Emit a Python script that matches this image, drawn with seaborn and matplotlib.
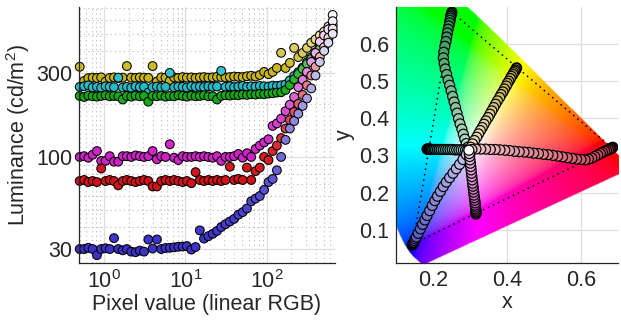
import numpy as np
import pandas as pd
import matplotlib
matplotlib.use("Agg")
import matplotlib.pyplot as plt
import seaborn as sns
from matplotlib.path import Path
from matplotlib.colors import to_rgb
from matplotlib.ticker import FixedLocator, FixedFormatter, NullFormatter, LogLocator

# ---------------- data: left panel (luminance vs pixel value) ----------------
pixel_value = [0.50, 0.566, 0.638, 0.721, 0.814, 0.919, 1.04, 1.17, 1.32, 1.49,
               1.69, 1.90, 2.15, 2.43, 2.74, 3.09, 3.49, 3.94, 4.45, 5.03,
               5.68, 6.41, 7.24, 8.17, 9.23, 10.4, 11.8, 13.3, 15.0, 16.9,
               19.1, 21.6, 24.4, 27.5, 31.0, 35.1, 39.6, 44.7, 50.5, 57.0,
               64.3, 72.6, 82.0, 92.7, 105, 118, 133, 150, 170, 192,
               217, 244, 276, 312, 352, 397, 449, 507, 572, 646]

lum_yellow = [325, 270, 280, 282, 281, 283, 268, 281, 283, 280,
              282, 328, 282, 281, 283, 282, 281, 328, 268, 283,
              282, 270, 283, 281, 284, 282, 283, 281, 283, 284,
              282, 283, 285, 284, 283, 284, 286, 285, 284, 287,
              289, 286, 292, 304, 295, 304, 320, 390, 320, 342,
              416, 369, 389, 416, 445, 465, 490, 515, 550, 640]

lum_cyan = [250, 252, 255, 248, 250, 247, 252, 250, 249, 282,
            248, 250, 247, 252, 249, 250, 232, 249, 251, 248,
            250, 300, 249, 251, 250, 248, 252, 250, 251, 249,
            252, 250, 251, 308, 250, 252, 249, 251, 253, 250,
            252, 251, 253, 252, 251, 254, 253, 255, 258, 272,
            288, 303, 322, 345, 368, 393, 420, 450, 490, 560]

lum_green = [222, 219, 223, 221, 220, 222, 224, 221, 222, 221,
             212, 222, 220, 223, 221, 222, 206, 222, 221, 223,
             220, 222, 221, 224, 222, 220, 223, 221, 222, 224,
             221, 221, 212, 222, 224, 223, 225, 224, 226, 225,
             227, 226, 228, 227, 229, 230, 232, 233, 240, 256,
             276, 296, 316, 338, 360, 384, 410, 438, 470, 515]

lum_magenta = [100, 101, 99, 103, 108, 95, 95, 101, 94, 94,
               101, 101, 100, 102, 101, 100, 101, 108, 97, 101,
               100, 118, 99, 96, 101, 100, 100, 101, 100, 101,
               100, 99, 101, 95, 100, 100, 101, 104, 99, 105,
               100, 111, 116, 121, 126, 150, 155, 165, 182, 198,
               219, 249, 274, 304, 346, 389, 451, 490, 530, 590]

lum_red = [73, 74, 72, 73, 72, 86, 73, 74, 73, 69,
           73, 74, 73, 72, 73, 74, 73, 68, 68, 73,
           74, 73, 74, 73, 72, 73, 71, 82, 74, 73,
           74, 73, 74, 73, 74, 88, 74, 75, 74, 87,
           74, 83, 87, 100, 96, 108, 116, 128, 145, 162,
           180, 200, 225, 255, 290, 325, 370, 420, 475, 535]

lum_blue = [30, 30, 30.5, 30, 27.7, 30, 30.3, 30, 34.6, 30,
            29.5, 30, 29, 28.8, 29.4, 29, 34, 30.2, 34, 30,
            30.4, 30.5, 30.7, 30.9, 31, 31.2, 29.8, 30.8, 38.3, 34.4,
            35.5, 36.6, 38, 40, 41.5, 43, 44.5, 47, 48.6, 51,
            56, 58, 60, 65, 72, 75, 84, 100, 125, 145,
            160, 176, 195, 215, 245, 290, 346, 400, 445, 500]

y_ticks_left = [30, 100, 300]
y_ticklabels_left = ["30", "100", "300"]

# ---------------- data: right panel (CIE xy chromaticity) ----------------
green_x = [0.251, 0.250, 0.249, 0.248, 0.247, 0.246, 0.245, 0.243, 0.241, 0.239,
           0.237, 0.235, 0.232, 0.229, 0.228, 0.230, 0.233, 0.237, 0.241, 0.245,
           0.249, 0.253, 0.257, 0.261, 0.265, 0.269, 0.273, 0.278, 0.282, 0.286,
           0.290, 0.294]
green_y = [0.686, 0.683, 0.679, 0.675, 0.670, 0.664, 0.657, 0.649, 0.640, 0.630,
           0.619, 0.607, 0.594, 0.578, 0.563, 0.548, 0.533, 0.518, 0.503, 0.489,
           0.474, 0.459, 0.444, 0.429, 0.414, 0.399, 0.385, 0.371, 0.357, 0.344,
           0.332, 0.322]

yellow_x = [0.426, 0.425, 0.423, 0.421, 0.418, 0.416, 0.412, 0.409, 0.405, 0.401,
            0.398, 0.393, 0.389, 0.384, 0.380, 0.374, 0.369, 0.364, 0.359, 0.354,
            0.349, 0.343, 0.338, 0.333, 0.328, 0.323, 0.318, 0.312, 0.307, 0.302]
yellow_y = [0.536, 0.534, 0.530, 0.527, 0.523, 0.518, 0.513, 0.507, 0.500, 0.494,
            0.487, 0.479, 0.471, 0.464, 0.456, 0.447, 0.438, 0.429, 0.420, 0.411,
            0.402, 0.393, 0.384, 0.375, 0.367, 0.358, 0.349, 0.340, 0.331, 0.322]

cyan_x = [0.184, 0.185, 0.186, 0.187, 0.189, 0.191, 0.193, 0.196, 0.199, 0.203,
          0.207, 0.212, 0.217, 0.222, 0.228, 0.234, 0.240, 0.246, 0.252, 0.258,
          0.264, 0.270, 0.276, 0.282, 0.288, 0.293]
cyan_y = [0.317, 0.317, 0.317, 0.317, 0.317, 0.317, 0.317, 0.316, 0.316, 0.316,
          0.316, 0.316, 0.316, 0.316, 0.316, 0.316, 0.316, 0.316, 0.316, 0.315,
          0.315, 0.315, 0.315, 0.315, 0.314, 0.314]

red_x = [0.686, 0.684, 0.681, 0.678, 0.674, 0.669, 0.664, 0.658, 0.652, 0.645,
         0.637, 0.629, 0.620, 0.611, 0.600, 0.588, 0.576, 0.563, 0.550, 0.537,
         0.524, 0.511, 0.498, 0.485, 0.472, 0.459, 0.446, 0.433, 0.420, 0.407,
         0.394, 0.381, 0.368, 0.355, 0.342, 0.329, 0.316, 0.305]
red_y = [0.322, 0.320, 0.319, 0.317, 0.315, 0.313, 0.311, 0.308, 0.305, 0.301,
         0.297, 0.293, 0.290, 0.288, 0.289, 0.290, 0.292, 0.294, 0.296, 0.298,
         0.300, 0.302, 0.303, 0.305, 0.306, 0.308, 0.309, 0.310, 0.311, 0.313,
         0.314, 0.315, 0.316, 0.316, 0.317, 0.317, 0.317, 0.316]

blue_x = [0.144, 0.145, 0.146, 0.147, 0.148, 0.150, 0.152, 0.155, 0.160, 0.166,
          0.172, 0.178, 0.184, 0.191, 0.198, 0.205, 0.212, 0.220, 0.228, 0.236,
          0.245, 0.254, 0.263, 0.272, 0.281, 0.290]
blue_y = [0.058, 0.060, 0.062, 0.064, 0.066, 0.070, 0.075, 0.080, 0.090, 0.102,
          0.114, 0.126, 0.138, 0.151, 0.165, 0.178, 0.190, 0.203, 0.216, 0.228,
          0.240, 0.252, 0.264, 0.276, 0.289, 0.302]

magenta_x = [0.316, 0.316, 0.316, 0.316, 0.315, 0.315, 0.314, 0.314, 0.313, 0.312,
             0.311, 0.310, 0.309, 0.308, 0.307, 0.306, 0.305, 0.304, 0.303, 0.302,
             0.301, 0.300, 0.299, 0.298]
magenta_y = [0.142, 0.145, 0.148, 0.152, 0.156, 0.161, 0.166, 0.172, 0.179, 0.186,
             0.193, 0.201, 0.209, 0.217, 0.225, 0.234, 0.243, 0.252, 0.261, 0.270,
             0.279, 0.288, 0.297, 0.305]

white_x = [0.297]
white_y = [0.314]

gamut_x = [0.684, 0.251, 0.146, 0.684]
gamut_y = [0.320, 0.686, 0.062, 0.320]

# CIE 1931 spectral locus (subset), used for the background region
locus_x = [0.1741, 0.1733, 0.1714, 0.1689, 0.1644, 0.1566, 0.1440, 0.1355, 0.1241,
           0.1096, 0.0913, 0.0687, 0.0454, 0.0235, 0.0082, 0.0039, 0.0139, 0.0389,
           0.0743, 0.1142, 0.1547, 0.1929, 0.2296, 0.2658, 0.3016, 0.3373, 0.3731,
           0.4087, 0.4441, 0.4788, 0.5125, 0.5448, 0.5752, 0.6029, 0.6270, 0.6482,
           0.6658, 0.6915, 0.7079, 0.7190, 0.7260, 0.7347]
locus_y = [0.0050, 0.0048, 0.0051, 0.0069, 0.0109, 0.0177, 0.0297, 0.0399, 0.0578,
           0.0868, 0.1327, 0.2007, 0.2950, 0.4127, 0.5384, 0.6548, 0.7502, 0.8120,
           0.8338, 0.8262, 0.8059, 0.7816, 0.7543, 0.7243, 0.6923, 0.6589, 0.6245,
           0.5896, 0.5547, 0.5202, 0.4866, 0.4544, 0.4242, 0.3965, 0.3725, 0.3514,
           0.3340, 0.3083, 0.2920, 0.2809, 0.2740, 0.2653]

# ---------------- style ----------------
sns.set_style("white")
plt.rcParams["font.family"] = ["Liberation Sans", "DejaVu Sans"]
plt.rcParams["mathtext.fontset"] = "custom"
plt.rcParams["mathtext.rm"] = "Liberation Sans"
plt.rcParams["mathtext.it"] = "Liberation Sans:italic"
plt.rcParams["mathtext.bf"] = "Liberation Sans:bold"
TXT = "#262626"
FS = 15.5

fig = plt.figure(figsize=(6.21, 3.24), dpi=100)
axL = fig.add_axes([79 / 621, 61 / 324, 256 / 621, 256 / 324])
axR = fig.add_axes([396 / 621, 61 / 324, 222 / 621, 256 / 324])

white = np.ones(3)

# ---------------- left panel ----------------
left_series = [
    ("yellow", lum_yellow, "#c8b414", 282),
    ("cyan", lum_cyan, "#20bcc8", 250),
    ("green", lum_green, "#14aa14", 222),
    ("magenta", lum_magenta, "#d020c8", 100),
    ("red", lum_red, "#d41018", 73),
    ("blue", lum_blue, "#3c32c8", 30),
]
rows = []
for name, lum, col, base in left_series:
    c0 = np.array(to_rgb(col))
    for xv, yv in zip(pixel_value, lum):
        t = np.clip(np.log(yv / base) / np.log(645 / base), 0, 1) ** 1.4
        c = (1 - t) * c0 + t * white
        rows.append((xv, yv, tuple(c)))
dfL = pd.DataFrame(rows, columns=["x", "y", "color"])
dfL["pid"] = ["p%d" % i for i in range(len(dfL))]
palL = dict(zip(dfL["pid"], dfL["color"]))
sns.scatterplot(data=dfL, x="x", y="y", hue="pid", palette=palL, legend=False,
                s=40, edgecolor="black", linewidth=0.75, ax=axL, zorder=3,
                clip_on=False)
axL.set_xscale("log")
axL.set_yscale("log")
axL.set_xlim(0.49, 690)
axL.set_ylim(25, 710)
axL.yaxis.set_major_locator(FixedLocator(y_ticks_left))
axL.yaxis.set_major_formatter(FixedFormatter(y_ticklabels_left))
axL.yaxis.set_minor_locator(LogLocator(base=10, subs=np.arange(2, 10), numticks=20))
axL.yaxis.set_minor_formatter(NullFormatter())
axL.xaxis.set_major_locator(LogLocator(base=10, numticks=10))
axL.xaxis.set_minor_locator(LogLocator(base=10, subs=np.arange(2, 10), numticks=20))
axL.xaxis.set_minor_formatter(NullFormatter())
axL.set_axisbelow(True)
axL.grid(which="major", color="#dedede", lw=0.9, ls="-")
axL.grid(which="minor", color="#b8b8b8", lw=0.8, ls=(0, (1, 3)))
axL.set_xlabel("Pixel value (linear RGB)", fontsize=FS, color=TXT, labelpad=1)
axL.set_ylabel("Luminance (cd/m$^2$)", fontsize=FS, color=TXT, labelpad=3)

# ---------------- right panel ----------------
nx, ny = 600, 690
gx = np.linspace(0.1, 0.7, nx)
gy = np.linspace(0.01, 0.7, ny)
GX, GY = np.meshgrid(gx, gy)
XYZ = np.stack([GX / GY, np.ones_like(GX), (1 - GX - GY) / GY], -1)
M = np.array([[3.2406, -1.5372, -0.4986],
              [-0.9689, 1.8758, 0.0415],
              [0.0557, -0.2040, 1.0570]])
rgb = np.clip(XYZ @ M.T, 0, None)
rgb = rgb / np.maximum(rgb.max(-1, keepdims=True), 1e-9)
rgb = np.where(rgb <= 0.0031308, 12.92 * rgb, 1.055 * np.power(rgb, 1 / 2.4) - 0.055)
poly = Path(np.column_stack([locus_x, locus_y]))
inside = poly.contains_points(np.column_stack([GX.ravel(), GY.ravel()])).reshape(GX.shape)
rgba = np.concatenate([rgb, inside[..., None].astype(float)], -1)
axR.imshow(rgba, extent=[0.1, 0.7, 0.01, 0.7], origin="lower", aspect="auto",
           interpolation="bilinear", zorder=1)

sns.lineplot(x=gamut_x, y=gamut_y, sort=False, estimator=None, color="black",
             lw=1.1, ls=(0, (1, 2.6)), ax=axR, zorder=2)

arms = [
    ("green", green_x, green_y, "#23904a"),
    ("yellow", yellow_x, yellow_y, "#c4aa38"),
    ("cyan", cyan_x, cyan_y, "#0f8c8c"),
    ("red", red_x, red_y, "#cc4054"),
    ("blue", blue_x, blue_y, "#5050c0"),
    ("magenta", magenta_x, magenta_y, "#c048b0"),
]
rows = []
for name, xs, ys, col in arms:
    c1 = np.array(to_rgb(col))
    light = 0.3 * c1 + 0.7 * white
    d = np.hypot(np.array(xs) - white_x[0], np.array(ys) - white_y[0])
    tt = d / d.max()
    for xv, yv, t in zip(xs, ys, tt):
        c = (1 - t) * light + t * c1
        rows.append((xv, yv, tuple(c)))
for xv, yv in zip(white_x, white_y):
    rows.append((xv, yv, (1.0, 1.0, 1.0)))
dfR = pd.DataFrame(rows, columns=["x", "y", "color"])
dfR["pid"] = ["q%d" % i for i in range(len(dfR))]
palR = dict(zip(dfR["pid"], dfR["color"]))
sns.scatterplot(data=dfR, x="x", y="y", hue="pid", palette=palR, legend=False,
                s=52, edgecolor="black", linewidth=0.85, ax=axR, zorder=3)

axR.set_xlim(0.1, 0.7)
axR.set_ylim(0.01, 0.7)
axR.set_xticks([0.2, 0.4, 0.6])
axR.set_xticklabels(["0.2", "0.4", "0.6"])
axR.set_yticks([0.1, 0.2, 0.3, 0.4, 0.5, 0.6])
axR.set_yticklabels(["0.1", "0.2", "0.3", "0.4", "0.5", "0.6"])
axR.set_axisbelow(True)
axR.grid(which="major", color="#dedede", lw=0.9, ls="-")
axR.set_xlabel("x", fontsize=FS, color=TXT, labelpad=1)
axR.set_ylabel("y", fontsize=FS, color=TXT, labelpad=3)

for ax in (axL, axR):
    for s in ("top", "right"):
        ax.spines[s].set_visible(False)
    for s in ("left", "bottom"):
        ax.spines[s].set_color(TXT)
        ax.spines[s].set_linewidth(0.9)
        ax.spines[s].set_zorder(4)
    ax.tick_params(which="major", direction="in", length=4, width=0.8,
                   colors=TXT, labelsize=FS, pad=5)
    ax.tick_params(which="minor", direction="in", length=2, width=0.6, colors=TXT)

fig.savefig("out.png", dpi=100)
